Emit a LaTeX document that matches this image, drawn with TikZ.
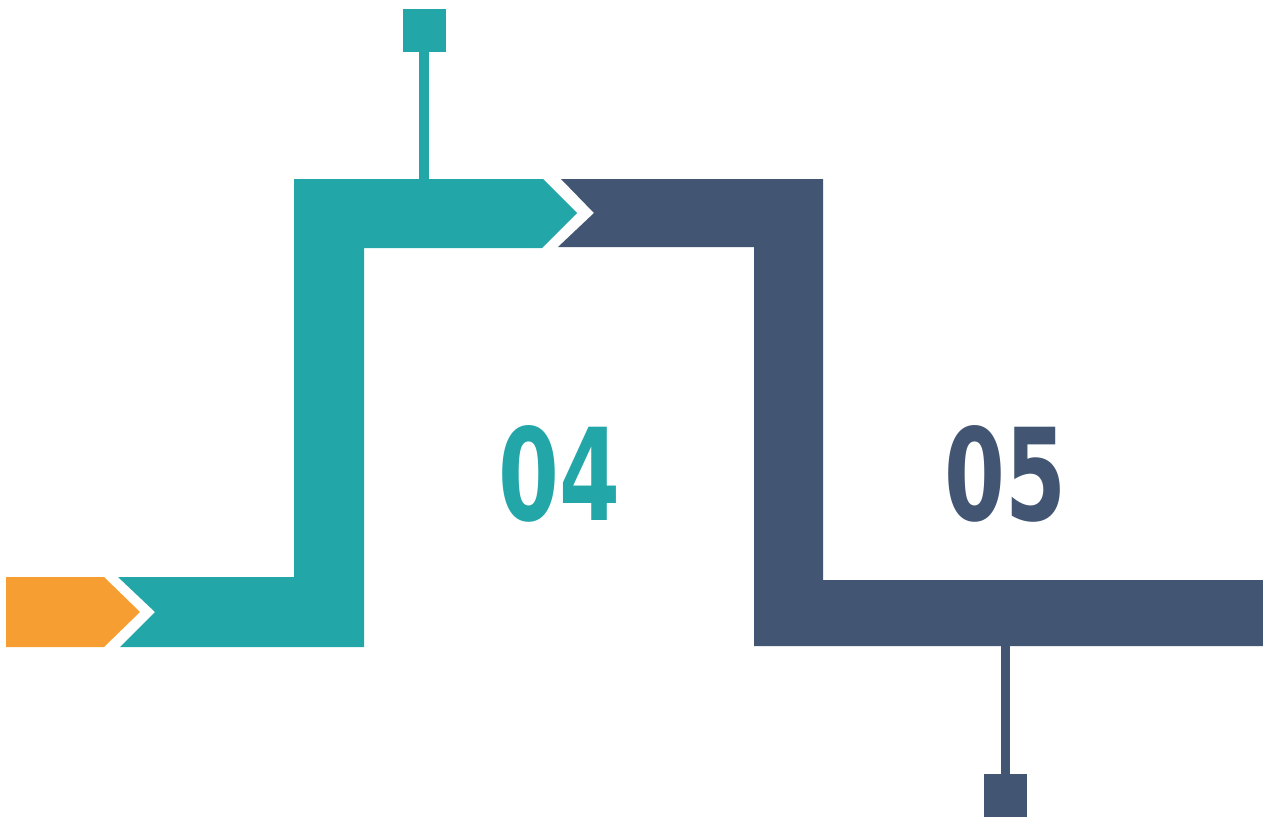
\documentclass[tikz,border=0pt]{standalone}
\usepackage{fontspec}
\usepackage{tikz}
\usetikzlibrary{positioning}
\newfontfamily\numfont{DejaVu Sans Condensed}
\definecolor{tealpipe}{RGB}{34,166,168}
\definecolor{navypipe}{RGB}{66,85,115}
\definecolor{orangepipe}{RGB}{247,158,51}
\begin{document}
\begin{tikzpicture}[
    x=0.5pt, y=-0.5pt,
    pipe/.style={draw=none},
    stepnum/.style={inner sep=0pt, font=\numfont\bfseries\fontsize{64}{64}\selectfont}
  ]
    \useasboundingbox (0,0) rectangle (1263,819);
    \fill[pipe, orangepipe] (6,577) -- (104,577) -- (140,612) -- (104,647) -- (6,647) -- cycle;
    \fill[pipe, tealpipe] (118,577) -- (155,612) -- (120,647) -- (364,647) -- (364,248) -- (542,248) -- (577,213) -- (543,179) -- (294,179) -- (294,577) -- cycle;
    \fill[pipe, navypipe] (561,179) -- (594,213) -- (558,247) -- (754,247) -- (754,646) -- (1263,646) -- (1263,580) -- (823,580) -- (823,179) -- cycle;
    \fill[tealpipe] (419,52) rectangle (429,180);
    \fill[tealpipe] (403,9) rectangle (446,52);
    \fill[navypipe] (1001,645) rectangle (1010,774);
    \fill[navypipe] (984,774) rectangle (1027,817);
    \node[stepnum, text=tealpipe] (step04) at (559,474) {\scalebox{0.76}[1]{04}};
    \node[stepnum, text=navypipe] (step05) at (1005,474) {\scalebox{0.76}[1]{05}};
  \end{tikzpicture}
\end{document}
